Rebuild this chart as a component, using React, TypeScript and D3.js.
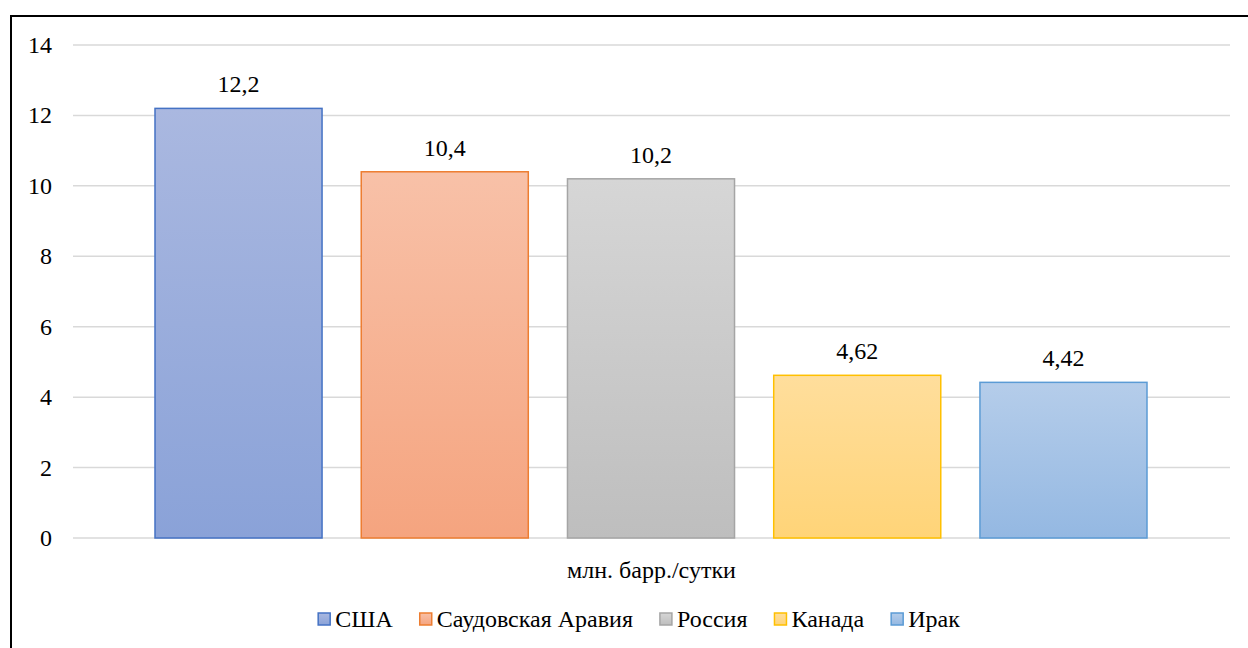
import React, { useLayoutEffect, useRef, useState } from "react";
import * as d3 from "d3";

const categories = ["США", "Саудовская Аравия", "Россия", "Канада", "Ирак"];
const values = [12.2, 10.4, 10.2, 4.62, 4.42];
const valueLabels = ["12,2", "10,4", "10,2", "4,62", "4,42"];
const yTicks = [0, 2, 4, 6, 8, 10, 12, 14];
const axisTitle = "млн. барр./сутки";
const strokeColors = ["#4472C4", "#ED7D31", "#A5A5A5", "#FFC000", "#5B9BD5"];
const topColors = ["#AAB8E0", "#F8C1A8", "#D6D6D6", "#FFDE9C", "#B5CDEA"];
const bottomColors = ["#8AA2D8", "#F5A47F", "#BEBEBE", "#FFD478", "#94B8E2"];

const W = 1248;
const H = 648;
const FONT = `"Liberation Serif", monospace`;
const FS = 24;
const ts = { fontFamily: FONT };

export default function App() {
  const plot = { left: 73, right: 1230, top: 45, bottom: 538 };
  const y = d3.scaleLinear().domain([0, 14]).range([plot.bottom, plot.top]);
  const x = d3
    .scaleBand<string>()
    .domain(categories)
    .range([plot.left + 82, plot.right - 83])
    .paddingInner(0.19)
    .paddingOuter(0);

  const legendRefs = useRef<(SVGTextElement | null)[]>([]);
  const [widths, setWidths] = useState<number[]>(categories.map(() => 100));

  useLayoutEffect(() => {
    const measure = () =>
      setWidths(legendRefs.current.map((t) => (t ? t.getComputedTextLength() : 100)));
    measure();
    if ((document as any).fonts && (document as any).fonts.ready) {
      (document as any).fonts.ready.then(measure);
    }
  }, []);

  const sq = 12;
  const txtGap = 5;
  const gap = 27;
  const itemW = widths.map((w) => sq + txtGap + w);
  const total = d3.sum(itemW) + gap * (categories.length - 1);
  const starts: number[] = [];
  let cx = 639 - total / 2;
  itemW.forEach((w) => {
    starts.push(cx);
    cx += w + gap;
  });

  return (
    <svg
      width={W}
      height={H}
      style={{ position: "absolute", left: 0, top: 0, background: "#fff" }}
    >
      <defs>
        {categories.map((c, i) => (
          <linearGradient key={c} id={"grad" + i} x1={0} y1={0} x2={0} y2={1}>
            <stop offset="0%" stopColor={topColors[i]} />
            <stop offset="100%" stopColor={bottomColors[i]} />
          </linearGradient>
        ))}
      </defs>

      <line x1={10} x2={W} y1={16} y2={16} stroke="#000" strokeWidth={2} />
      <line x1={11} x2={11} y1={15} y2={H} stroke="#000" strokeWidth={2} />

      {yTicks.map((t) => (
        <line
          key={"g" + t}
          x1={plot.left}
          x2={plot.right}
          y1={y(t)}
          y2={y(t)}
          stroke="#D9D9D9"
          strokeWidth={1.5}
        />
      ))}

      {yTicks.map((t) => (
        <text
          key={"t" + t}
          x={52}
          y={y(t) + 8}
          textAnchor="end"
          fontSize={FS}
          style={ts}
        >
          {String(t)}
        </text>
      ))}

      {categories.map((c, i) => (
        <rect
          key={"b" + c}
          x={x(c)!}
          width={x.bandwidth()}
          y={y(values[i])}
          height={y(0) - y(values[i])}
          fill={`url(#grad${i})`}
          stroke={strokeColors[i]}
          strokeWidth={1.5}
        />
      ))}

      {categories.map((c, i) => (
        <text
          key={"v" + c}
          x={x(c)! + x.bandwidth() / 2}
          y={y(values[i]) - 16}
          textAnchor="middle"
          fontSize={FS}
          style={ts}
        >
          {valueLabels[i]}
        </text>
      ))}

      <text
        x={(plot.left + plot.right) / 2}
        y={578}
        textAnchor="middle"
        fontSize={FS}
        style={ts}
      >
        {axisTitle}
      </text>

      {categories.map((c, i) => (
        <g key={"l" + c} transform={`translate(${starts[i]},0)`}>
          <rect
            x={0}
            y={613}
            width={sq}
            height={sq}
            fill={`url(#grad${i})`}
            stroke={strokeColors[i]}
            strokeWidth={1.5}
          />
          <text
            ref={(el) => {
              legendRefs.current[i] = el;
            }}
            x={sq + txtGap}
            y={627}
            fontSize={FS}
            style={ts}
          >
            {c}
          </text>
        </g>
      ))}
    </svg>
  );
}
